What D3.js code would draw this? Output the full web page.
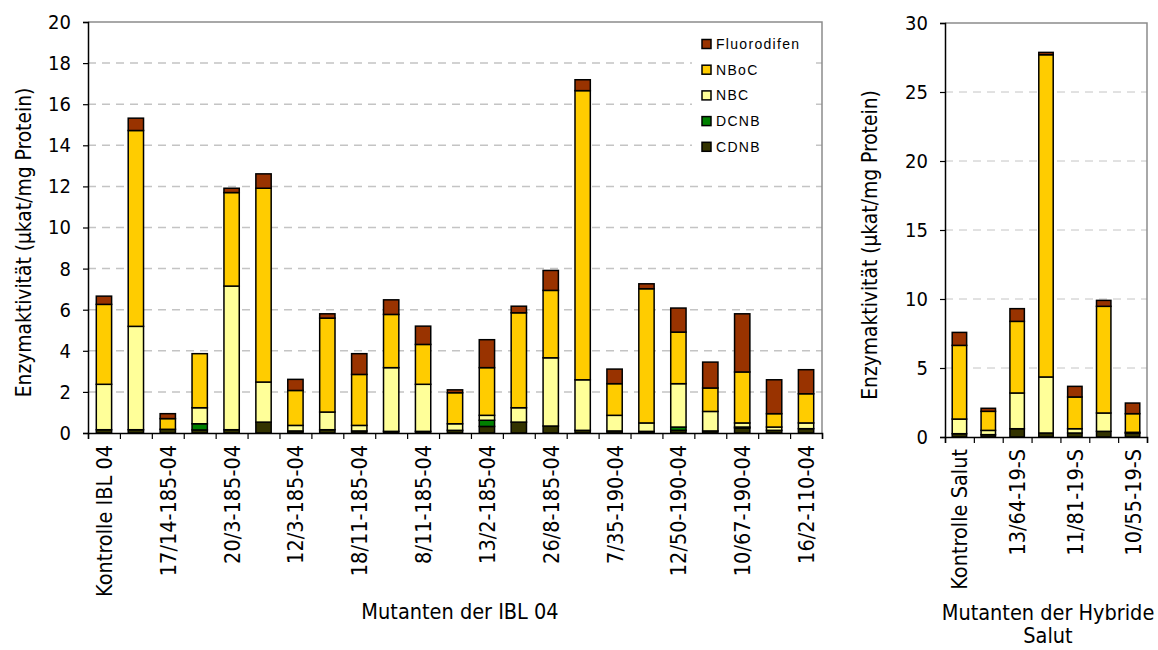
<!DOCTYPE html>
<html><head><meta charset="utf-8">
<script src="https://cdn.jsdelivr.net/npm/d3@7"></script>
<style>
body{margin:0;background:#fff}
text{font-family:"DejaVu Sans Condensed","DejaVu Sans",sans-serif;fill:#000}
</style>
</head><body><svg id="chart" width="1158" height="650"></svg>
<script>
// Substrates (stack order bottom → top) and their fills
const series = ["CDNB", "DCNB", "NBC", "NBoC", "Fluorodifen"];
const seriesColors = ["#333300", "#008000", "#FFFF99", "#FFCC00", "#993300"];

// Mutants of IBL 04 (every second name shown on the axis)
const iblLabels = ["Kontrolle IBL 04", "", "17/14-185-04", "", "20/3-185-04", "", "12/3-185-04", "",
  "18/11-185-04", "", "8/11-185-04", "", "13/2-185-04", "", "26/8-185-04", "", "7/35-190-04", "",
  "12/50-190-04", "", "10/67-190-04", "", "16/2-110-04"];
const iblCDNB  = [0.16,0.16,0.18,0.15,0.16,0.53,0.10,0.16,0.10,0.08,0.08,0.13,0.32,0.53,0.34,0.13,0.10,0.08,0.13,0.10,0.24,0.13,0.21];
const iblDCNB  = [0,0,0,0.30,0,0,0,0,0,0,0,0,0.30,0,0,0,0,0,0.16,0,0.05,0,0];
const iblNBC   = [2.21,5.03,0,0.78,6.99,1.95,0.27,0.86,0.27,3.10,2.29,0.32,0.24,0.70,3.32,2.46,0.76,0.41,2.11,0.95,0.20,0.16,0.28];
const iblNBoC  = [3.89,9.53,0.52,2.63,4.55,9.43,1.70,4.57,2.48,2.59,1.94,1.51,2.32,4.62,3.28,14.07,1.54,6.53,2.51,1.14,2.48,0.65,1.42];
const iblFluor = [0.40,0.60,0.24,0,0.21,0.70,0.54,0.21,1.01,0.71,0.89,0.14,1.36,0.32,0.97,0.53,0.71,0.24,1.17,1.26,2.83,1.65,1.17];
const iblTicks = [0,2,4,6,8,10,12,14,16,18,20];

// Mutants of the hybrid Salut
const salutLabels = ["Kontrolle Salut", "", "13/64-19-S", "", "11/81-19-S", "", "10/55-19-S"];
const salutCDNB  = [0.24,0.17,0.60,0.29,0.29,0.41,0.27];
const salutDCNB  = [0,0,0,0,0,0,0];
const salutNBC   = [1.06,0.31,2.59,4.06,0.31,1.33,0.07];
const salutNBoC  = [5.34,1.38,5.19,23.35,2.30,7.73,1.35];
const salutFluor = [0.94,0.22,0.92,0.17,0.77,0.43,0.77];
const salutTicks = [0,5,10,15,20,25,30];

const yTitle = "Enzymaktivität (µkat/mg Protein)";

const svg = d3.select("#chart");
const TEXT = 21.5, TITLE_Y = 20.8, TICK = 20;

function rows(labels, cols) {
  return labels.map((l, i) => {
    const r = {i};
    series.forEach((s, k) => r[s] = cols[k][i]);
    return r;
  });
}

function panel(p) {
  const n = p.labels.length;
  const x = d3.scaleBand().domain(d3.range(n)).range([p.x0, p.x1]).paddingInner(p.pad).paddingOuter(p.pad / 2);
  const xb = d3.scaleLinear().domain([0, n]).range([p.x0, p.x1]);
  const y = d3.scaleLinear().domain([0, p.max]).range([p.yBot, p.yTop]);
  const g = svg.append("g");

  // dashed gridlines
  g.append("g").selectAll("line").data(p.ticks.filter(t => t > 0 && t < p.max)).join("line")
    .attr("x1", p.x0).attr("x2", p.x1).attr("y1", d => y(d)).attr("y2", d => y(d))
    .attr("stroke", "#c4c4c4").attr("stroke-width", p.gridW).attr("stroke-dasharray", "8,6");

  // plot-area frame (top and right)
  g.append("path").attr("d", `M${p.x0},${p.yTop}H${p.x1}V${p.yBot}`)
    .attr("fill", "none").attr("stroke", "#8c8c8c").attr("stroke-width", 1.5);

  // stacked bars
  const stack = d3.stack().keys(series)(rows(p.labels, p.cols));
  g.append("g").selectAll("g").data(stack).join("g")
    .attr("fill", (d, k) => seriesColors[k])
    .selectAll("rect").data(d => d.filter(s => s[1] - s[0] > 0)).join("rect")
    .attr("x", d => x(d.data.i)).attr("width", x.bandwidth())
    .attr("y", d => y(d[1])).attr("height", d => y(d[0]) - y(d[1]))
    .attr("stroke", "#000").attr("stroke-width", 1.5);

  // y axis
  const ya = g.append("g").attr("transform", `translate(${p.x0},0)`)
    .call(d3.axisLeft(y).tickValues(p.ticks).tickSize(5).tickPadding(12));
  ya.select(".domain").attr("stroke", "#000").attr("stroke-width", 1.5);
  ya.selectAll(".tick line").attr("stroke", "#000").attr("stroke-width", 1.2);
  ya.selectAll("text").attr("font-size", TICK).style("font-family", null);

  // x axis: ticks between categories
  const xa = g.append("g").attr("transform", `translate(0,${p.yBot})`)
    .call(d3.axisBottom(xb).tickValues(d3.range(n + 1)).tickSize(6).tickFormat(""));
  xa.select(".domain").attr("stroke", "#000").attr("stroke-width", 1.5);
  xa.selectAll(".tick line").attr("stroke", "#000").attr("stroke-width", 1.2);

  // category labels, rotated
  g.append("g").selectAll("text").data(p.labels.map((l, i) => ({l, i})).filter(d => d.l)).join("text")
    .attr("transform", d => `translate(${x(d.i) + x.bandwidth() / 2 + 8},${p.yBot + 12}) rotate(-90)`)
    .attr("text-anchor", "end").attr("font-size", TEXT).text(d => d.l);

  // axis titles
  g.append("text").attr("transform", `translate(${p.yTitleX},${(p.yTop + p.yBot) / 2 + 15}) rotate(-90)`)
    .attr("text-anchor", "middle").attr("font-size", TITLE_Y).text(yTitle);
  const cx = (p.x0 + p.x1) / 2 + p.xTitleDx;
  p.xTitle.forEach((t, k) => g.append("text").attr("x", cx).attr("y", p.xTitleY + k * 23)
    .attr("text-anchor", "middle").attr("font-size", TEXT).text(t));
  return {x, y};
}

panel({x0: 88, x1: 822, yTop: 22, yBot: 433, max: 20, ticks: iblTicks, labels: iblLabels,
  cols: [iblCDNB, iblDCNB, iblNBC, iblNBoC, iblFluor], pad: 0.52, gridW: 1.5,
  yTitleX: 31, xTitle: ["Mutanten der IBL 04"], xTitleY: 619, xTitleDx: 5});

panel({x0: 945, x1: 1147, yTop: 23, yBot: 437, max: 30, ticks: salutTicks, labels: salutLabels,
  cols: [salutCDNB, salutDCNB, salutNBC, salutNBoC, salutFluor], pad: 0.5, gridW: 1,
  yTitleX: 877, xTitle: ["Mutanten der Hybride", "Salut"], xTitleY: 620, xTitleDx: 2});

// legend (top of the stack listed first)
const lg = svg.append("g");
lg.append("rect").attr("x", 692).attr("y", 24).attr("width", 122).attr("height", 140).attr("fill", "#fff");
const items = series.map((s, k) => ({s, c: seriesColors[k]})).reverse();
const li = lg.selectAll("g").data(items).join("g")
  .attr("transform", (d, k) => `translate(702,${44 + k * 25.7})`);
li.append("rect").attr("x", 0).attr("y", -4.5).attr("width", 9).attr("height", 9)
  .attr("fill", d => d.c).attr("stroke", "#000").attr("stroke-width", 1.5);
li.append("text").attr("x", 14).attr("y", 5).attr("font-size", 14)
  .style("font-family", "'Liberation Sans',Arial,sans-serif").style("letter-spacing", "1.3px")
  .text(d => d.s);
</script>
</body></html>
